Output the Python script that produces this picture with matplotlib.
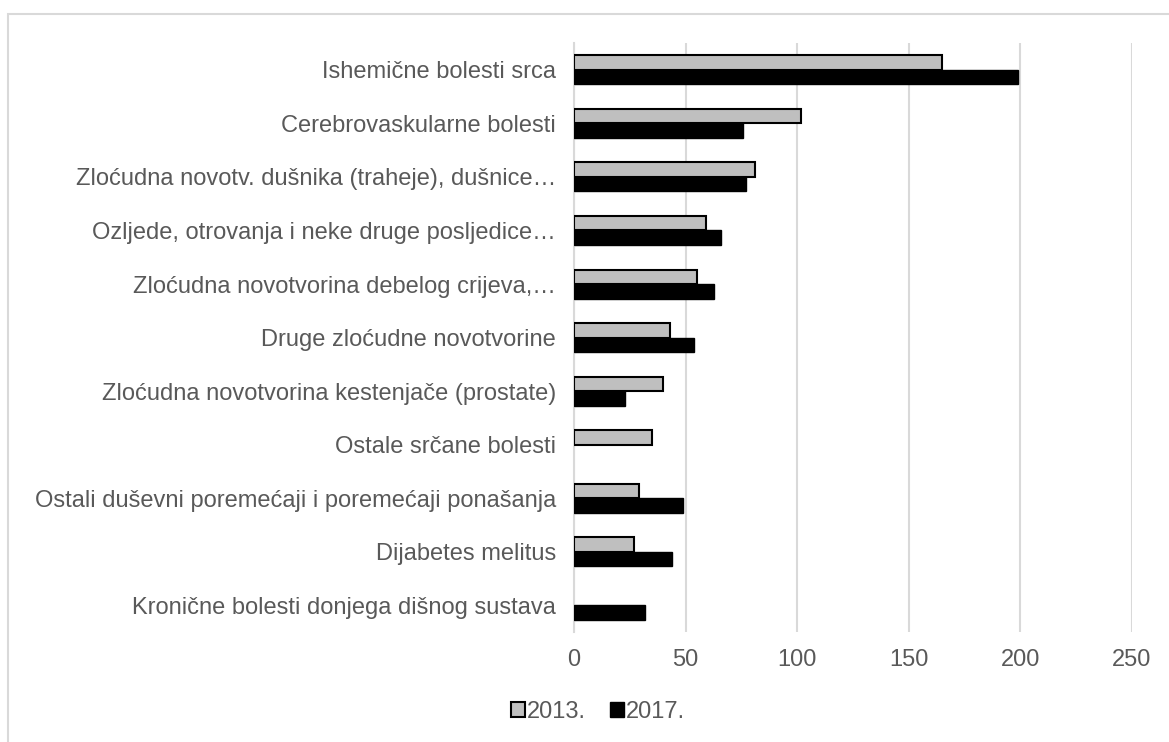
import numpy as np
import matplotlib.pyplot as plt
from matplotlib.patches import Rectangle

categories = [
    "Ishemične bolesti srca",
    "Cerebrovaskularne bolesti",
    "Zloćudna novotv. dušnika (traheje), dušnice…",
    "Ozljede, otrovanja i neke druge posljedice…",
    "Zloćudna novotvorina debelog crijeva,…",
    "Druge zloćudne novotvorine",
    "Zloćudna novotvorina kestenjače (prostate)",
    "Ostale srčane bolesti",
    "Ostali duševni poremećaji i poremećaji ponašanja",
    "Dijabetes melitus",
    "Kronične bolesti donjega dišnog sustava",
]
values_2013 = [165, 102, 81, 59, 55, 43, 40, 35, 29, 27, 0]
values_2017 = [199, 76, 77, 66, 63, 54, 23, 0, 49, 44, 32]
series_names = ["2013.", "2017."]
x_ticks = [0, 50, 100, 150, 200, 250]

plt.rcParams['font.family'] = ['Liberation Sans', 'DejaVu Sans']
text_color = "#595959"
fs = 17

fig = plt.figure(figsize=(11.69, 7.42), dpi=100)
ax = fig.add_axes([0.491, 0.148, 0.477, 0.794])

y = np.arange(len(categories))
h = 0.27
# no outline for empty bars
lw13 = [1.5 if v > 0 else 0 for v in values_2013]
lw17 = [1 if v > 0 else 0 for v in values_2017]
ax.barh(y - h / 2, values_2013, height=h, color="#bfbfbf", edgecolor="black",
        linewidth=lw13, label=series_names[0], zorder=3)
ax.barh(y + h / 2, values_2017, height=h, color="black", edgecolor="black",
        linewidth=lw17, label=series_names[1], zorder=3)

ax.set_xlim(0, 250)
ax.set_ylim(len(categories) - 0.5, -0.5)
ax.set_xticks(x_ticks)
ax.set_yticks(y)
ax.set_yticklabels(categories)
ax.tick_params(axis="both", length=0, labelsize=fs, labelcolor=text_color)
ax.tick_params(axis="y", pad=13)
ax.tick_params(axis="x", pad=12)
ax.grid(axis="x", color="#d9d9d9", linewidth=1.5, zorder=0)
for s in ["top", "right", "bottom"]:
    ax.spines[s].set_visible(False)
ax.spines["left"].set_color("#d9d9d9")
ax.spines["left"].set_linewidth(1.5)

leg = ax.legend(loc="center", bbox_to_anchor=(598 / 1169, 1 - 712 / 742),
                bbox_transform=fig.transFigure, ncol=2, frameon=False,
                fontsize=fs, handlelength=0.6, handleheight=0.6,
                handletextpad=0.1, columnspacing=1.0)
for t in leg.get_texts():
    t.set_color(text_color)

# outer chart border
fig.patches.append(Rectangle((8 / 1169, -0.1), 1.2, 1.1 - 14 / 742,
                             transform=fig.transFigure, fill=False,
                             edgecolor="#d9d9d9", linewidth=1.5))

fig.savefig("out.png", dpi=100)
